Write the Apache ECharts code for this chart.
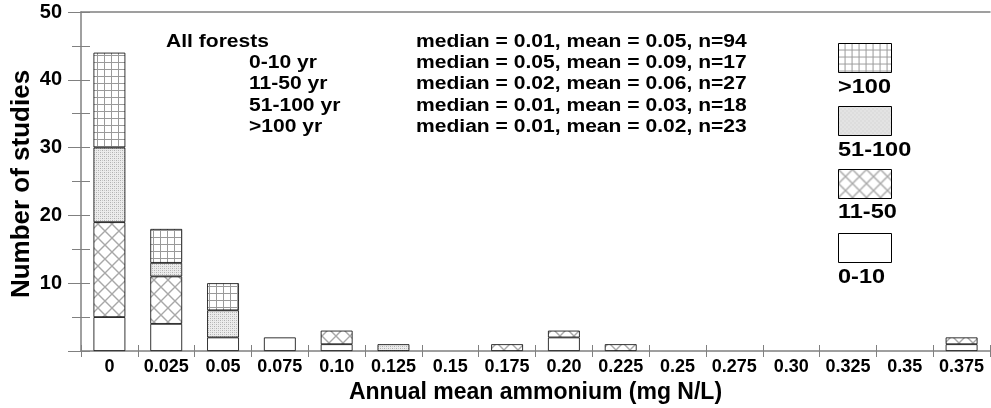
<!DOCTYPE html>
<html>
<head>
<meta charset="utf-8">
<script src="https://cdn.jsdelivr.net/npm/echarts@6/dist/echarts.min.js"></script>
<style>html,body{margin:0;padding:0;background:#fff}#c{width:991px;height:408px}</style>
</head>
<body>
<div id="c"></div>
<script>
// ---- data ----
var categories = ['0','0.025','0.05','0.075','0.10','0.125','0.15','0.175','0.20','0.225','0.25','0.275','0.30','0.325','0.35','0.375'];
var age0to10   = [5, 4, 2, 2, 1, 0, 0, 0, 2, 0, 0, 0, 0, 0, 0, 1];
var age11to50  = [14, 7, 0, 0, 2, 0, 0, 1, 1, 1, 0, 0, 0, 0, 0, 1];
var age51to100 = [11, 2, 4, 0, 0, 1, 0, 0, 0, 0, 0, 0, 0, 0, 0, 0];
var ageOver100 = [14, 5, 4, 0, 0, 0, 0, 0, 0, 0, 0, 0, 0, 0, 0, 0];
var seriesNames = ['0-10', '11-50', '51-100', '>100'];
var yTicks = [0, 10, 20, 30, 40, 50];
var yAxisTitle = 'Number of studies';
var xAxisTitle = 'Annual mean ammonium (mg N/L)';
var statsLabels = ['All forests', '0-10 yr', '11-50 yr', '51-100 yr', '>100 yr'];
var statsText = [
  'median = 0.01, mean = 0.05, n=94',
  'median = 0.05, mean = 0.09, n=17',
  'median = 0.02, mean = 0.06, n=27',
  'median = 0.01, mean = 0.03, n=18',
  'median = 0.01, mean = 0.02, n=23'
];

// ---- patterns ----
function mk(w, h, draw) {
  var c = document.createElement('canvas'); c.width = w; c.height = h;
  var g = c.getContext('2d'); draw(g, w, h);
  return { image: c, repeat: 'repeat' };
}
var patWhite = '#ffffff';
var patCross = mk(14, 14, function (g, w, h) {
  g.fillStyle = '#fff'; g.fillRect(0, 0, w, h);
  g.strokeStyle = '#a8a8a8'; g.lineWidth = 1.4;
  g.beginPath(); g.moveTo(0, 0); g.lineTo(w, h); g.moveTo(w, 0); g.lineTo(0, h); g.stroke();
});
var patDots = mk(4, 4, function (g, w, h) {
  g.fillStyle = '#ececec'; g.fillRect(0, 0, w, h);
  g.fillStyle = '#b0b0b0';
  g.fillRect(0, 0, 1, 1); g.fillRect(2, 2, 1, 1);
  g.fillStyle = '#c8c8c8'; g.fillRect(2, 0, 1, 1); g.fillRect(0, 2, 1, 1);
});
var patGrid = mk(7, 7, function (g, w, h) {
  g.fillStyle = '#fff'; g.fillRect(0, 0, w, h);
  g.fillStyle = '#9a9a9a';
  g.fillRect(w - 1, 0, 1, h); g.fillRect(0, h - 1, w, 1);
});
var fills = [patWhite, patCross, patDots, patGrid];
var dataSets = [age0to10, age11to50, age51to100, ageOver100];

var FONT = 'Liberation Sans, Arial, sans-serif';
var axisGray = '#808080';

var series = seriesNames.map(function (n, i) {
  return {
    name: n, type: 'bar', stack: 'all', barWidth: '56%',
    xAxisIndex: 0, yAxisIndex: 0,
    itemStyle: { color: fills[i], borderColor: '#000', borderWidth: 0.8 },
    data: dataSets[i].map(function (v) { return v === 0 ? '-' : v; })
  };
});

var legendTops = [233, 169, 106, 43];
var legends = seriesNames.map(function (n, i) {
  return {
    data: [{ name: n, icon: 'rect' }], left: 838, top: legendTops[i], orient: 'vertical',
    padding: 0, itemGap: 0,
    itemWidth: 53, itemHeight: 29, selectedMode: false,
    formatter: function () { return ''; },
    itemStyle: { borderColor: '#000', borderWidth: 1 },
    textStyle: { fontSize: 1 }
  };
});

var graphics = [];
var rowY = [42, 63, 84, 106, 127];
var SX = 1.17;
statsLabels.forEach(function (s, i) {
  graphics.push({ type: 'text', x: i === 0 ? 166 : 249, y: rowY[i], scaleX: SX,
    style: { text: s, font: 'bold 18px ' + FONT, fill: '#000', textVerticalAlign: 'middle', verticalAlign: 'middle' } });
  graphics.push({ type: 'text', x: 416, y: rowY[i], scaleX: SX,
    style: { text: statsText[i], font: 'bold 18px ' + FONT, fill: '#000', textVerticalAlign: 'middle', verticalAlign: 'middle' } });
});
var legLabY = [277, 212, 150, 87];
seriesNames.forEach(function (n, i) {
  graphics.push({ type: 'text', x: 838, y: legLabY[i], scaleX: 1.12,
    style: { text: n, font: 'bold 21px ' + FONT, fill: '#000', textVerticalAlign: 'middle', verticalAlign: 'middle' } });
});
graphics.push({ type: 'text', x: 22, y: 184, rotation: Math.PI / 2,
  style: { text: yAxisTitle, font: 'bold 26px ' + FONT, fill: '#000', align: 'center', verticalAlign: 'middle',
    textAlign: 'center', textVerticalAlign: 'middle' } });

var option = {
  animation: false,
  backgroundColor: '#fff',
  grid: { left: 81, right: 1, top: 12, bottom: 57, containLabel: false, outerBoundsMode: 'none' },
  legend: legends,
  xAxis: [
    { type: 'category', data: categories, position: 'bottom',
      name: xAxisTitle, nameLocation: 'middle', nameGap: 28,
      nameTextStyle: { fontFamily: FONT, fontWeight: 'bold', fontSize: 23, color: '#000' },
      axisLine: { lineStyle: { color: axisGray, width: 1.5 } },
      axisTick: { show: true, length: 6, lineStyle: { color: axisGray } },
      axisLabel: { interval: 0, fontFamily: FONT, fontWeight: 'bold', fontSize: 18, color: '#000', margin: 7 },
      splitLine: { show: false } },
    { type: 'category', data: categories, position: 'bottom', gridIndex: 0,
      axisLine: { show: false },
      axisTick: { show: true, inside: true, length: 6, lineStyle: { color: axisGray } },
      axisLabel: { show: false }, splitLine: { show: false } },
    { type: 'category', data: categories, position: 'top', gridIndex: 0,
      axisLine: { show: true, lineStyle: { color: axisGray, width: 1.5 } },
      axisTick: { show: false }, axisLabel: { show: false }, splitLine: { show: false } }
  ],
  yAxis: [
    { type: 'value', min: yTicks[0], max: yTicks[yTicks.length - 1], interval: 10,
      axisLine: { show: true, lineStyle: { color: axisGray, width: 1.5 } },
      axisTick: { show: true, length: 13, lineStyle: { color: axisGray } },
      minorTick: { show: true, splitNumber: 2, length: 9, lineStyle: { color: axisGray } },
      axisLabel: { fontFamily: FONT, fontWeight: 'bold', fontSize: 20, color: '#000', margin: 19,
        formatter: function (v) { return v === 0 ? '' : String(v); } },
      splitLine: { show: false } },
    { type: 'value', min: yTicks[0], max: yTicks[yTicks.length - 1], interval: 10, position: 'left',
      axisLine: { show: false },
      axisTick: { show: true, inside: true, length: 9, lineStyle: { color: axisGray } },
      minorTick: { show: true, splitNumber: 2, length: 9, lineStyle: { color: axisGray } },
      axisLabel: { show: false }, splitLine: { show: false } }
  ],
  graphic: graphics,
  series: series
};
var chart = echarts.init(document.getElementById('c'), null, { renderer: 'canvas' });
chart.setOption(option);
</script>
</body>
</html>
